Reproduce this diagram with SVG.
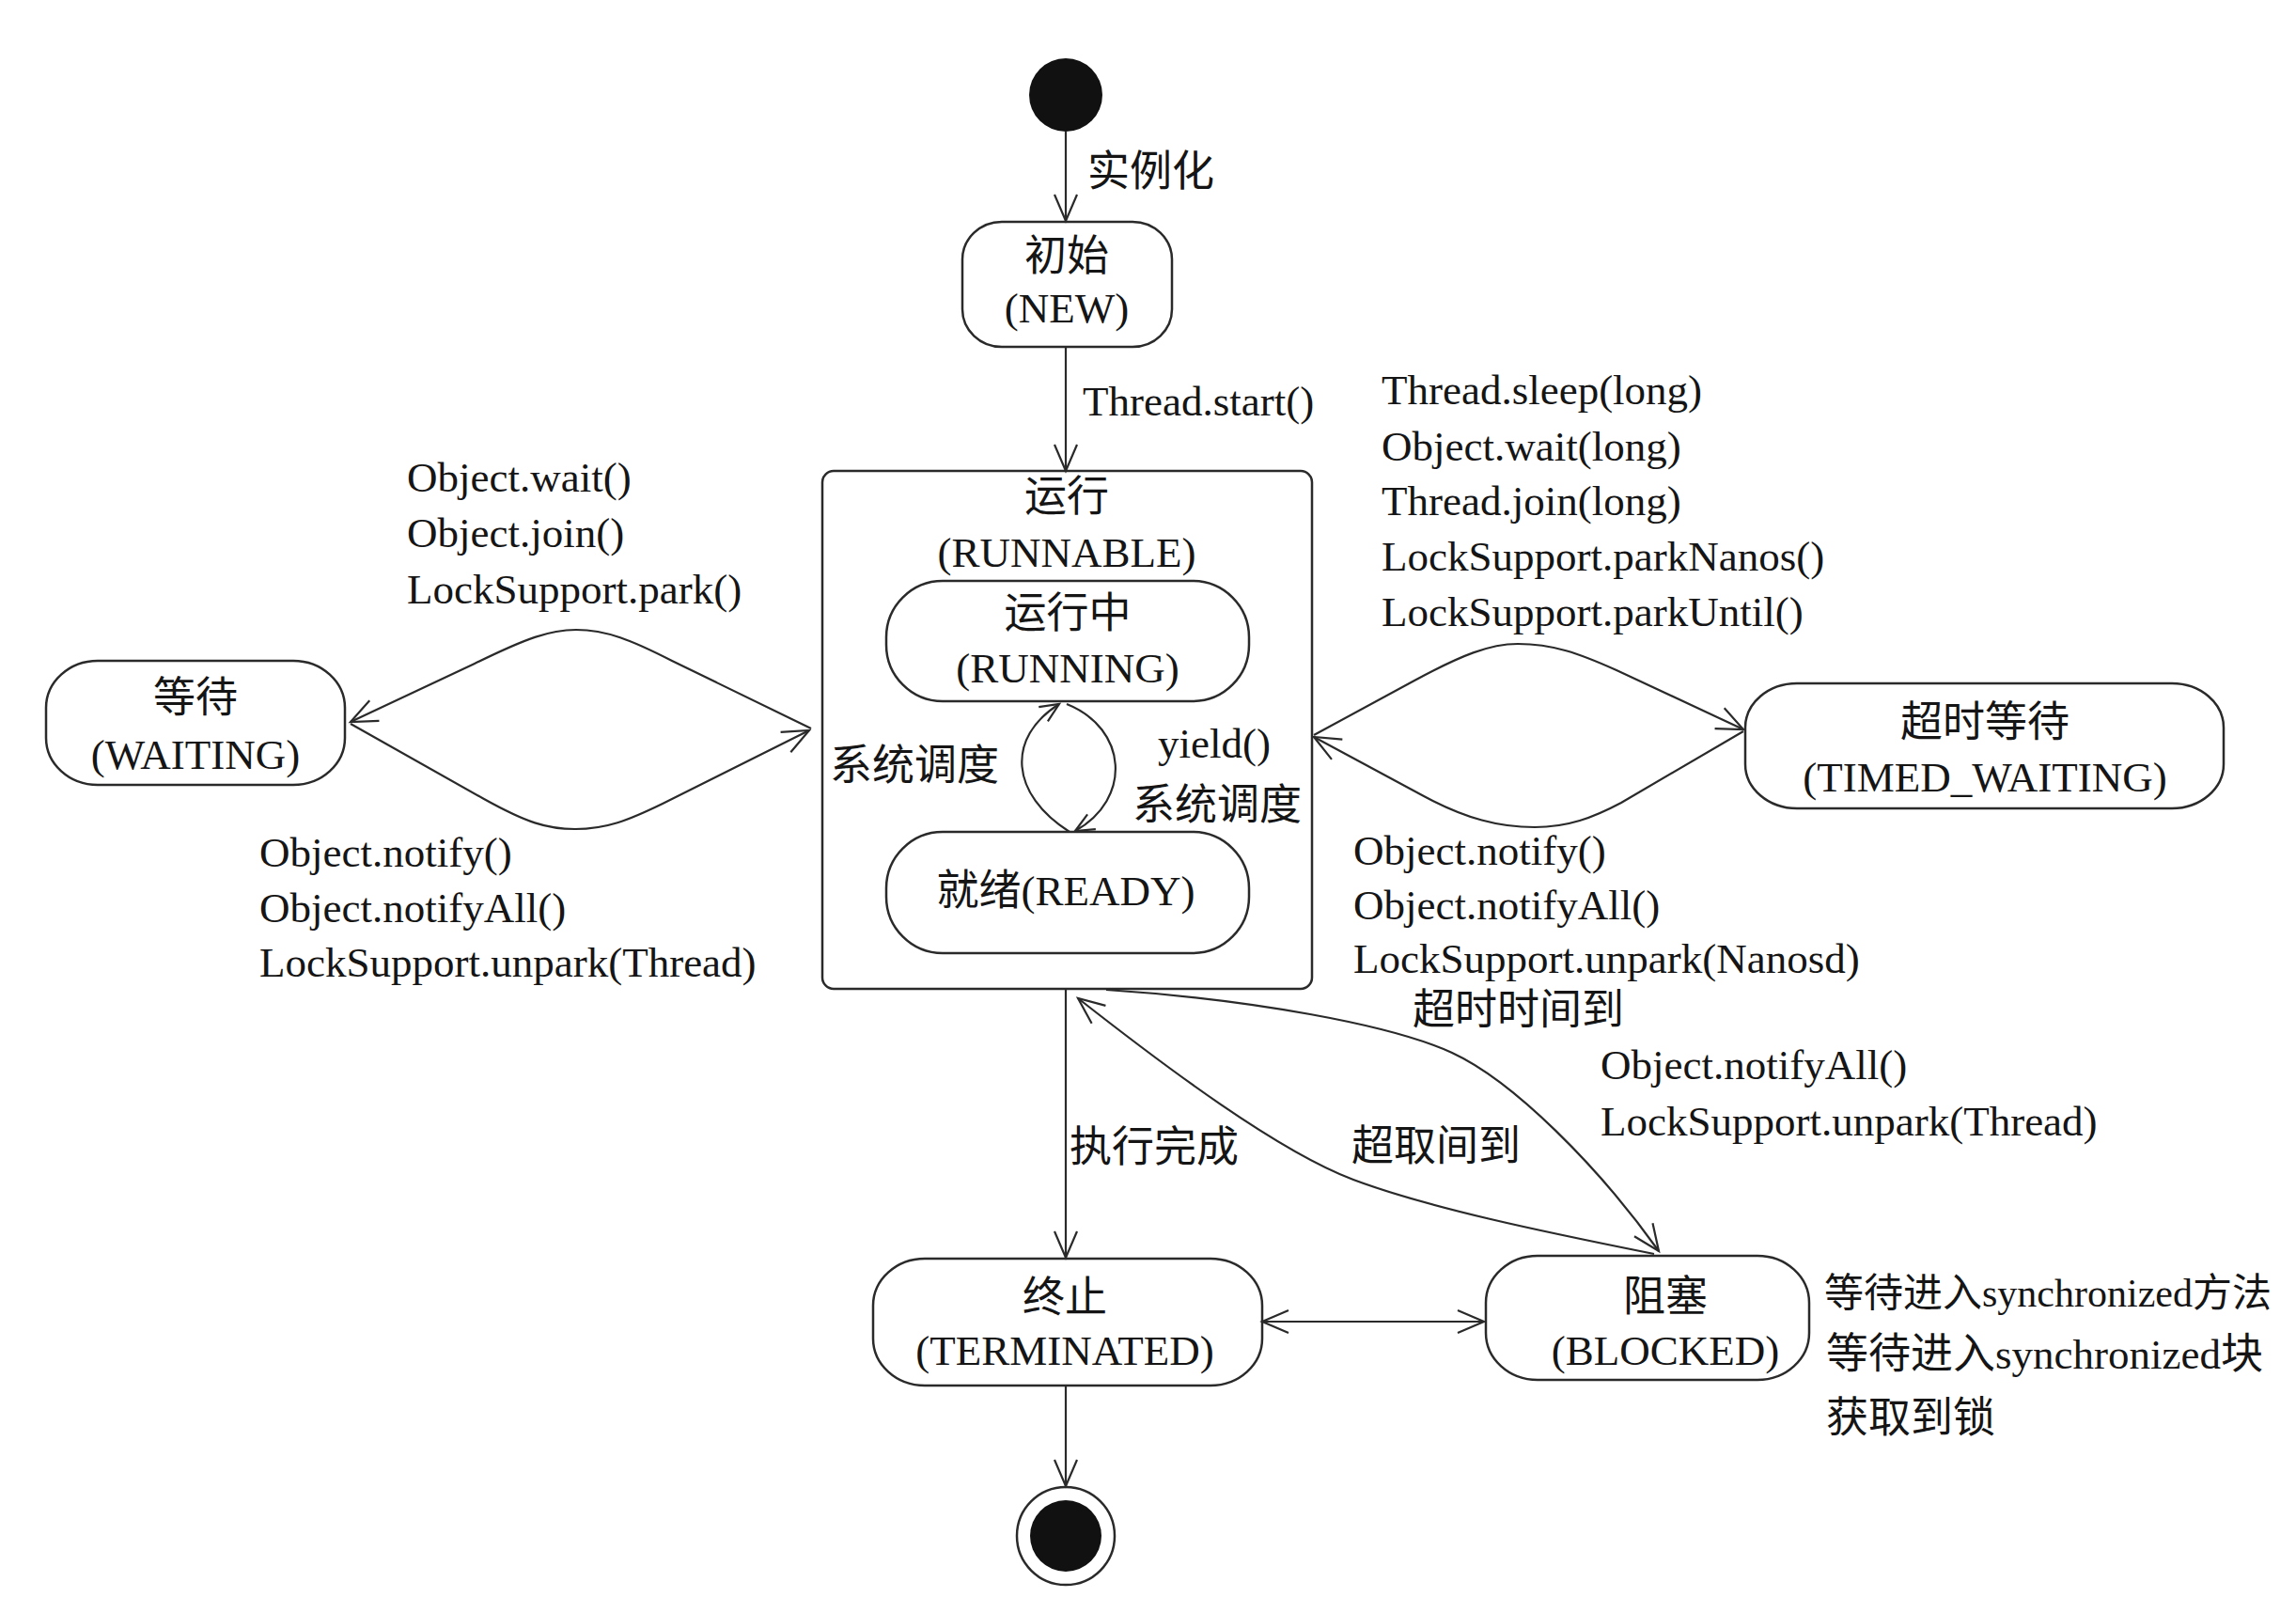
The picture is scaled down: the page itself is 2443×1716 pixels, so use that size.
<svg xmlns="http://www.w3.org/2000/svg" width="2443" height="1716" viewBox="0 0 2443 1716">
<style>
.bg{fill:#ffffff}
.node{fill:#ffffff;stroke:#2a2a2a;stroke-width:2.5}
.edge{fill:none;stroke:#2a2a2a;stroke-width:2.2}
.t{font-family:"Liberation Serif","Noto Sans CJK SC",serif;font-size:45px;fill:#151515}
.c{text-anchor:middle}
</style>
<defs>
<marker id="arr" markerUnits="userSpaceOnUse" markerWidth="34" markerHeight="30" refX="30" refY="15" orient="auto-start-reverse">
<path d="M2,3 L30,15 L2,27" fill="none" stroke="#2a2a2a" stroke-width="2.2"/>
</marker>
<marker id="arrS" markerUnits="userSpaceOnUse" markerWidth="26" markerHeight="22" refX="22" refY="11" orient="auto-start-reverse">
<path d="M2,2 L22,11 L2,20" fill="none" stroke="#2a2a2a" stroke-width="2.2"/>
</marker>
</defs>
<rect class="bg" x="0" y="0" width="2443" height="1716"/>

<g id="start">
<circle cx="1134" cy="101" r="39" fill="#111"/>
</g>

<g id="new">
<rect class="node" x="1024" y="236" width="223" height="133" rx="42" ry="40"/>
<text class="t c" x="1135" y="288">初始</text>
<text class="t c" x="1135" y="343">(NEW)</text>
</g>

<g id="runnable">
<rect class="node" x="875" y="501" width="521" height="551" rx="12" ry="12"/>
<text class="t c" x="1135" y="544">运行</text>
<text class="t c" x="1135" y="603">(RUNNABLE)</text>
</g>

<g id="running">
<rect class="node" x="943" y="618" width="386" height="128" rx="60" ry="60"/>
<text class="t c" x="1136" y="668">运行中</text>
<text class="t c" x="1136" y="726">(RUNNING)</text>
</g>

<g id="ready">
<rect class="node" x="943" y="885" width="386" height="129" rx="60" ry="60"/>
<text class="t c" x="1134" y="963">就绪(READY)</text>
</g>

<g id="waiting">
<rect class="node" x="49" y="703" width="318" height="132" rx="55" ry="50"/>
<text class="t c" x="208" y="758">等待</text>
<text class="t c" x="208" y="818">(WAITING)</text>
</g>

<g id="timed_waiting">
<rect class="node" x="1857" y="727" width="509" height="133" rx="55" ry="47"/>
<text class="t c" x="2112" y="784">超时等待</text>
<text class="t c" x="2112" y="842">(TIMED_WAITING)</text>
</g>

<g id="terminated">
<rect class="node" x="929" y="1339" width="414" height="135" rx="55" ry="50"/>
<text class="t c" x="1133" y="1396">终止</text>
<text class="t c" x="1133" y="1452">(TERMINATED)</text>
</g>

<g id="blocked">
<rect class="node" x="1581" y="1336" width="344" height="132" rx="55" ry="50"/>
<text class="t c" x="1772" y="1395">阻塞</text>
<text class="t c" x="1772" y="1452">(BLOCKED)</text>
</g>

<g id="blocked_notes">
<text class="t" x="1941" y="1390" style="font-size:42px">等待进入synchronized方法</text>
<text class="t" x="1943" y="1456">等待进入synchronized块</text>
<text class="t" x="1943" y="1524">获取到锁</text>
</g>

<g id="end">
<circle cx="1134" cy="1634" r="52" fill="#ffffff" stroke="#2a2a2a" stroke-width="2.5"/>
<circle cx="1134" cy="1634" r="38" fill="#111"/>
</g>

<g id="connectors">
<path class="edge" d="M1134,140 L1134,235" marker-end="url(#arr)"/>
<path class="edge" d="M1134,369 L1134,501" marker-end="url(#arr)"/>
<path class="edge" d="M1134,1052 L1134,1338" marker-end="url(#arr)"/>
<path class="edge" d="M1134,1474 L1134,1581" marker-end="url(#arr)"/>
<path class="edge" d="M373,768 L505,706 C560,679 585,670 613,670 C645,670 672,681 715,703 L863,775" marker-start="url(#arr)"/>
<path class="edge" d="M373,770 L515,850 C560,875 582,882 612,882 C645,882 668,873 705,855 L861,777" marker-end="url(#arr)"/>
<path class="edge" d="M1398,782 L1505,724 C1555,697 1585,685 1615,685 C1652,685 1680,695 1720,713 L1855,776" marker-end="url(#arr)"/>
<path class="edge" d="M1398,784 L1515,847 C1560,871 1595,880 1633,880 C1668,880 1695,870 1725,854 L1855,778" marker-start="url(#arr)"/>
<path class="edge" d="M1138,885 C1075,845 1070,785 1127,749" marker-end="url(#arrS)"/>
<path class="edge" d="M1135,749 C1200,775 1205,850 1144,884" marker-end="url(#arrS)"/>
<path class="edge" d="M1760,1334 C1640,1310 1520,1285 1440,1255 C1360,1225 1240,1135 1147,1062" marker-end="url(#arr)"/>
<path class="edge" d="M1177,1053 C1330,1063 1480,1090 1545,1120 C1610,1150 1700,1240 1765,1331" marker-end="url(#arr)"/>
<path class="edge" d="M1343,1406 L1579,1406" marker-start="url(#arr)" marker-end="url(#arr)"/>
<text class="t" x="1157" y="198">实例化</text>
<text class="t" x="1152" y="442">Thread.start()</text>
<text class="t" x="433" y="523">Object.wait()</text>
<text class="t" x="433" y="582">Object.join()</text>
<text class="t" x="433" y="642">LockSupport.park()</text>
<text class="t" x="276" y="922">Object.notify()</text>
<text class="t" x="276" y="981">Object.notifyAll()</text>
<text class="t" x="276" y="1039">LockSupport.unpark(Thread)</text>
<text class="t" x="1470" y="430">Thread.sleep(long)</text>
<text class="t" x="1470" y="490">Object.wait(long)</text>
<text class="t" x="1470" y="548">Thread.join(long)</text>
<text class="t" x="1470" y="607">LockSupport.parkNanos()</text>
<text class="t" x="1470" y="666">LockSupport.parkUntil()</text>
<text class="t" x="1440" y="920">Object.notify()</text>
<text class="t" x="1440" y="978">Object.notifyAll()</text>
<text class="t" x="1440" y="1035">LockSupport.unpark(Nanosd)</text>
<text class="t" x="1503" y="1090">超时时间到</text>
<text class="t" x="1703" y="1148">Object.notifyAll()</text>
<text class="t" x="1703" y="1208">LockSupport.unpark(Thread)</text>
<text class="t" x="1438" y="1235">超取间到</text>
<text class="t" x="1138" y="1236">执行完成</text>
<text class="t" x="883" y="830">系统调度</text>
<text class="t" x="1232" y="806">yield()</text>
<text class="t" x="1205" y="872">系统调度</text>
</g>
</svg>
